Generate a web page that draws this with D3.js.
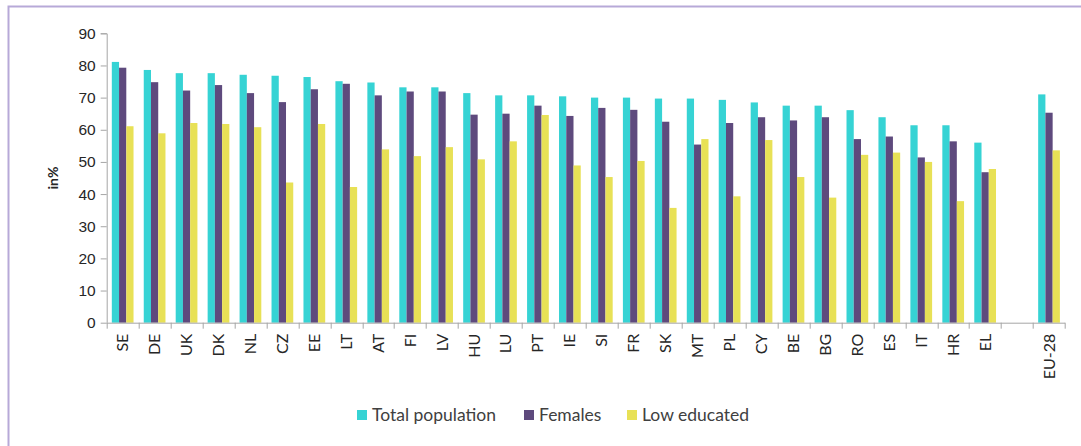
<!DOCTYPE html>
<html>
<head>
<meta charset="utf-8">
<script src="https://cdn.jsdelivr.net/npm/d3@7"></script>
<style>
  body { margin: 0; background: #fff; }
  svg { display: block; font-family: Lato, "Open Sans", sans-serif; }
</style>
</head>
<body>
<div id="app"></div>
<script>
// employment rates by country, three series, EU-28 set apart after a blank slot

const countries = ["SE", "DE", "UK", "DK", "NL", "CZ", "EE", "LT", "AT", "FI", "LV", "HU", "LU", "PT",
  "IE", "SI", "FR", "SK", "MT", "PL", "CY", "BE", "BG", "RO", "ES", "IT", "HR", "EL", "", "EU-28"];

const totalPop = [81.1, 78.6, 77.6, 77.6, 77.1, 76.8, 76.4, 75.1, 74.7, 73.2, 73.2, 71.4, 70.7, 70.7,
  70.4, 70.0, 70.0, 69.7, 69.7, 69.3, 68.5, 67.5, 67.5, 66.1, 63.9, 61.4, 61.4, 56.0, null, 71.0];
const females = [79.3, 74.8, 72.2, 73.9, 71.4, 68.6, 72.6, 74.3, 70.7, 71.9, 71.9, 64.7, 65.0, 67.5,
  64.3, 66.8, 66.2, 62.5, 55.4, 62.1, 63.9, 62.9, 63.9, 57.1, 57.9, 51.4, 56.4, 46.8, null, 65.3];
const lowEducated = [61.1, 58.9, 62.1, 61.8, 60.8, 43.6, 61.8, 42.2, 53.9, 51.8, 54.6, 50.8, 56.4, 64.6,
  48.9, 45.3, 50.3, 35.7, 57.1, 39.3, 56.8, 45.3, 38.9, 52.2, 52.9, 50.0, 37.8, 47.8, null, 53.6];

const seriesNames = ["Total population", "Females", "Low educated"];
const seriesColors = ["#36d3d4", "#5e4a7d", "#e8e156"];
const yTicks = [0, 10, 20, 30, 40, 50, 60, 70, 80, 90];

const width = 1081, height = 446;
const margin = { top: 33.3, right: 16, bottom: 123.3, left: 106.7 };
const boundedWidth = width - margin.left - margin.right;
const boundedHeight = height - margin.top - margin.bottom;

const svg = d3.select("#app").append("svg")
  .attr("width", width)
  .attr("height", height);

// frame, runs off the right and bottom edge in the original
svg.append("rect")
  .attr("x", 8.5).attr("y", 6.5)
  .attr("width", width).attr("height", height)
  .attr("fill", "none")
  .attr("stroke", "#b7a9d8")
  .attr("stroke-width", 2);

const bounds = svg.append("g")
  .attr("transform", `translate(${margin.left},${margin.top})`);

const keys = countries.map((c, i) => c || "blank" + i);

const xScale = d3.scaleBand()
  .domain(keys)
  .range([0, boundedWidth])
  .paddingInner(0)
  .paddingOuter(0);

const yScale = d3.scaleLinear()
  .domain([0, 90])
  .range([boundedHeight, 0]);

const sub = d3.scaleBand()
  .domain(d3.range(3))
  .range([xScale.bandwidth() * 0.16, xScale.bandwidth() * 0.84]);

const rows = keys.map((k, i) => ({
  key: k,
  values: [totalPop[i], females[i], lowEducated[i]]
}));

// bars
bounds.append("g")
  .selectAll("g")
  .data(rows)
  .join("g")
  .attr("transform", (d) => `translate(${xScale(d.key)},0)`)
  .selectAll("rect")
  .data((d) => d.values.map((v, j) => ({ v, j })).filter((e) => e.v != null))
  .join("rect")
  .attr("x", (e) => sub(e.j))
  .attr("width", sub.bandwidth())
  .attr("y", (e) => yScale(e.v))
  .attr("height", (e) => boundedHeight - yScale(e.v))
  .attr("fill", (e) => seriesColors[e.j]);

// y axis
const yAxis = bounds.append("g")
  .call(d3.axisLeft(yScale).tickValues(yTicks).tickSize(6).tickPadding(5));
yAxis.selectAll("path, line").attr("stroke", "#a6a6a6");
yAxis.select(".domain").attr("d", `M-6,${yScale(90)}.5H0.5V${boundedHeight}`);
yAxis.selectAll("text")
  .attr("fill", "#262626")
  .style("font-size", "15.5px");

// x axis: ticks sit on slot boundaries, labels in the middle
const xAxisG = bounds.append("g")
  .attr("transform", `translate(0,${boundedHeight})`);
xAxisG.append("line")
  .attr("x1", 0).attr("x2", boundedWidth)
  .attr("y1", 0.5).attr("y2", 0.5)
  .attr("stroke", "#a6a6a6");
xAxisG.selectAll(".tick")
  .data(keys.map((k) => xScale(k)).concat([boundedWidth]))
  .join("line")
  .attr("class", "tick")
  .attr("x1", (d) => Math.round(d) + 0.5)
  .attr("x2", (d) => Math.round(d) + 0.5)
  .attr("y1", 0).attr("y2", 6)
  .attr("stroke", "#a6a6a6");
xAxisG.selectAll("text")
  .data(rows.filter((d) => !d.key.startsWith("blank")))
  .join("text")
  .attr("transform", (d) => `translate(${xScale(d.key) + xScale.bandwidth() / 2 + 5.5},11) rotate(-90)`)
  .attr("text-anchor", "end")
  .attr("fill", "#262626")
  .style("font-size", "16px")
  .text((d) => d.key);

// y label
svg.append("text")
  .attr("transform", `translate(58,178) rotate(-90)`)
  .attr("text-anchor", "middle")
  .attr("font-weight", "bold")
  .attr("fill", "#262626")
  .style("font-size", "14px")
  .text("in%");

// legend
const legendX = [357, 524, 627];
const legend = svg.append("g")
  .selectAll("g")
  .data(seriesNames)
  .join("g")
  .attr("transform", (d, i) => `translate(${legendX[i]},410)`);
legend.append("rect")
  .attr("width", 10).attr("height", 10)
  .attr("fill", (d, i) => seriesColors[i]);
legend.append("text")
  .attr("x", 15).attr("y", 11)
  .attr("fill", "#404040")
  .style("font-size", "17.5px")
  .text((d) => d);
</script>
</body>
</html>
